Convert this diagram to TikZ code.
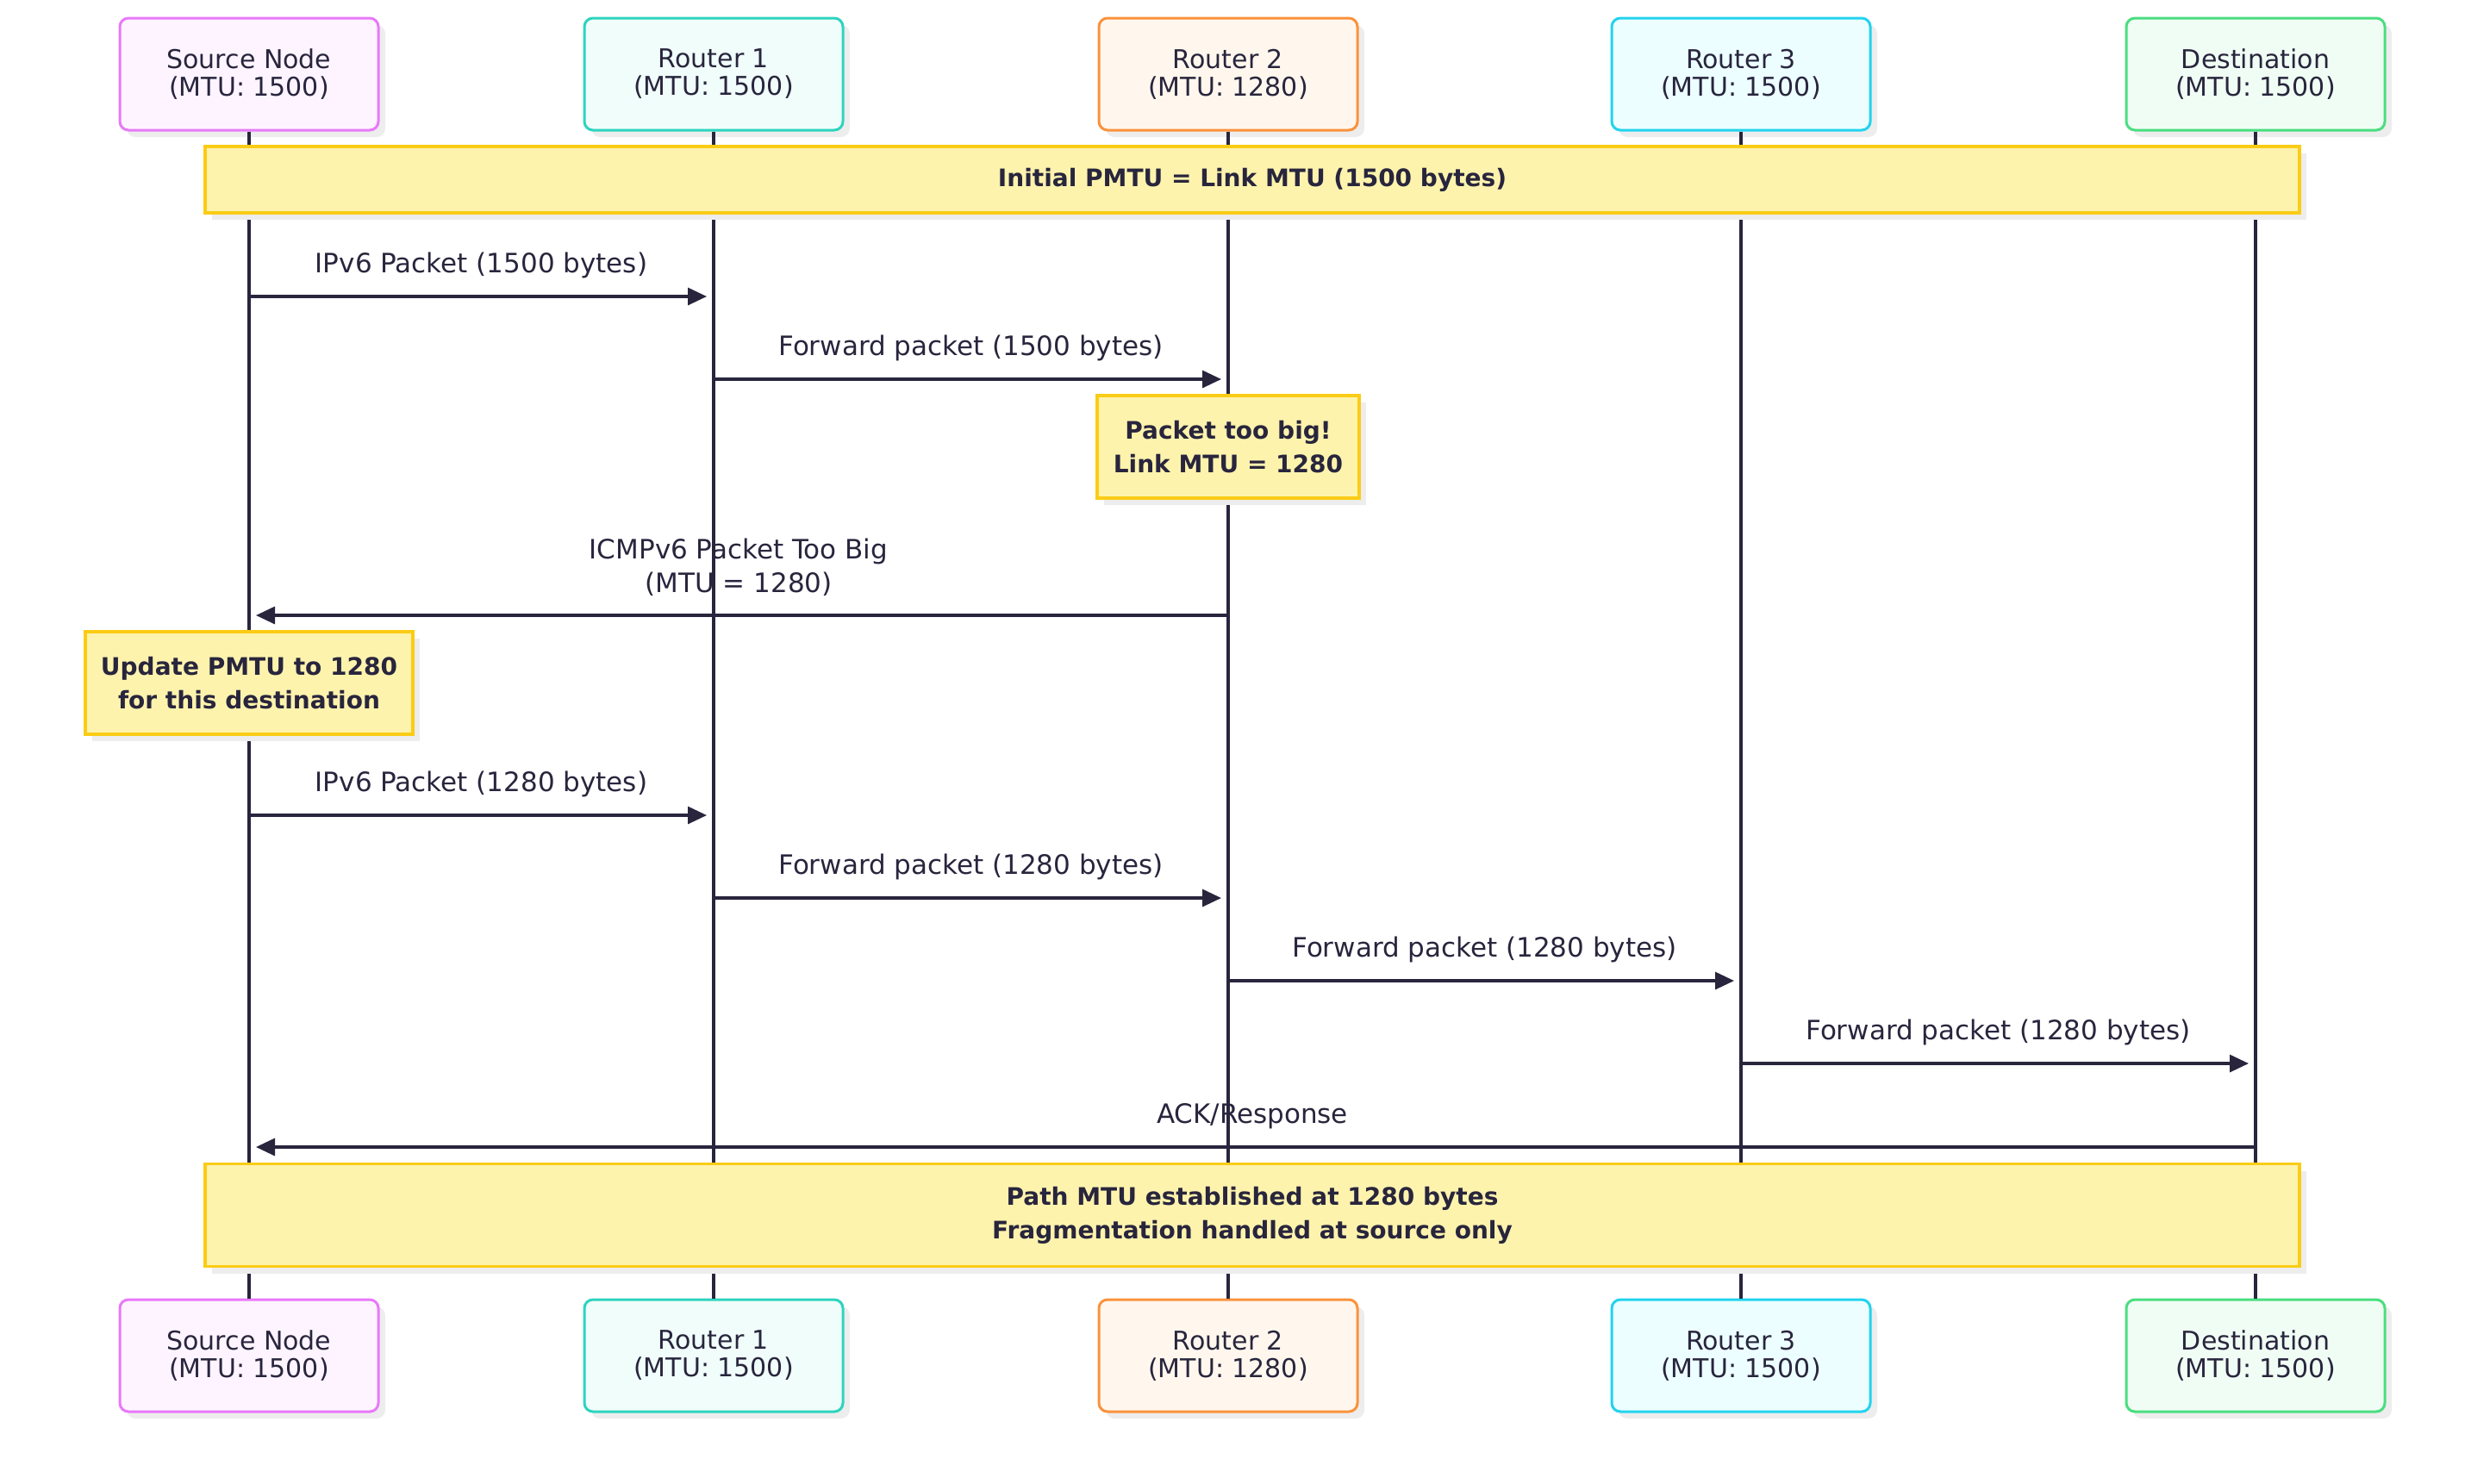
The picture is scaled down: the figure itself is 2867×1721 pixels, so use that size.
\documentclass[tikz,border=0pt]{standalone}
\usepackage{fontspec}
\setmainfont{DejaVu Sans}
\usepackage{tikz}
\usetikzlibrary{arrows.meta, positioning, shadows}
\definecolor{inkdark}{RGB}{40,37,61}
\definecolor{srcline}{RGB}{232,121,249}
\definecolor{srcfill}{RGB}{253,244,255}
\definecolor{tealline}{RGB}{45,212,191}
\definecolor{tealfill}{RGB}{240,253,250}
\definecolor{orangeline}{RGB}{251,146,60}
\definecolor{orangefill}{RGB}{255,247,237}
\definecolor{cyanline}{RGB}{34,211,238}
\definecolor{cyanfill}{RGB}{236,254,255}
\definecolor{greenline}{RGB}{74,222,128}
\definecolor{greenfill}{RGB}{240,253,244}
\definecolor{noteline}{RGB}{250,204,21}
\definecolor{notefill}{RGB}{254,243,173}

\begin{document}
\begin{tikzpicture}[
    x=0.5pt, y=-0.5pt,
    flatshadow/.style={drop shadow={shadow xshift=4pt, shadow yshift=-4pt, fill=black!7, opacity=1}},
    actor/.style={draw, line width=1.5pt, rounded corners=5pt, minimum width=150pt, minimum height=65pt, inner sep=0pt, align=center, text=inkdark, font=\fontsize{15}{16}\selectfont, flatshadow},
    note/.style={draw=noteline, fill=notefill, line width=1.8pt, inner sep=0pt, align=center, text=inkdark, font=\fontsize{14}{19.5}\selectfont\bfseries, flatshadow},
    life/.style={draw=inkdark, line width=1.6pt},
    msg/.style={-{Triangle[length=11pt, width=10pt]}, line width=1.6pt, draw=inkdark, shorten >=4pt},
    lbl/.style={text=inkdark, align=center, font=\fontsize{15.5}{19.5}\selectfont}
]
\useasboundingbox (0,0) rectangle (2867,1721);

% Participants (top)
\node[actor, draw=srcline, fill=srcfill] (srcT) at (289,86) {Source Node\\(MTU: 1500)};
\node[actor, draw=tealline, fill=tealfill] (r1T) at (828,86) {Router 1\\(MTU: 1500)};
\node[actor, draw=orangeline, fill=orangefill] (r2T) at (1425,86) {Router 2\\(MTU: 1280)};
\node[actor, draw=cyanline, fill=cyanfill] (r3T) at (2020,86) {Router 3\\(MTU: 1500)};
\node[actor, draw=greenline, fill=greenfill] (dstT) at (2617,86) {Destination\\(MTU: 1500)};

% Participants (bottom)
\node[actor, draw=srcline, fill=srcfill] (srcB) at (289,1573) {Source Node\\(MTU: 1500)};
\node[actor, draw=tealline, fill=tealfill] (r1B) at (828,1573) {Router 1\\(MTU: 1500)};
\node[actor, draw=orangeline, fill=orangefill] (r2B) at (1425,1573) {Router 2\\(MTU: 1280)};
\node[actor, draw=cyanline, fill=cyanfill] (r3B) at (2020,1573) {Router 3\\(MTU: 1500)};
\node[actor, draw=greenline, fill=greenfill] (dstB) at (2617,1573) {Destination\\(MTU: 1500)};

% Lifelines
\draw[life] (srcT.south) -- (srcB.north);
\draw[life] (r1T.south) -- (r1B.north);
\draw[life] (r2T.south) -- (r2B.north);
\draw[life] (r3T.south) -- (r3B.north);
\draw[life] (dstT.south) -- (dstB.north);

% Notes
\node[note, minimum width=1215pt, minimum height=38.5pt] (initNote) at (1453,208.5) {Initial PMTU = Link MTU (1500 bytes)};
\node[note, minimum width=152pt, minimum height=59.5pt] (bigNote) at (1425,518.5) {Packet too big!\\Link MTU = 1280};
\node[note, minimum width=190pt, minimum height=59.5pt] (updNote) at (289,792.5) {Update PMTU to 1280\\for this destination};
\node[note, minimum width=1215pt, minimum height=59.5pt] (pathNote) at (1453,1410) {Path MTU established at 1280 bytes\\Fragmentation handled at source only};

% Messages
\draw[msg] (srcT |- 0,344) -- node[lbl, yshift=18pt] {IPv6 Packet (1500 bytes)} (r1T |- 0,344);
\draw[msg] (r1T |- 0,440) -- node[lbl, yshift=18pt] {Forward packet (1500 bytes)} (r2T |- 0,440);
\draw[msg] (r2T |- 0,714) -- node[lbl, yshift=28pt] {ICMPv6 Packet Too Big\\(MTU = 1280)} (srcT |- 0,714);
\draw[msg] (srcT |- 0,946) -- node[lbl, yshift=18pt] {IPv6 Packet (1280 bytes)} (r1T |- 0,946);
\draw[msg] (r1T |- 0,1042) -- node[lbl, yshift=18pt] {Forward packet (1280 bytes)} (r2T |- 0,1042);
\draw[msg] (r2T |- 0,1138) -- node[lbl, yshift=18pt] {Forward packet (1280 bytes)} (r3T |- 0,1138);
\draw[msg] (r3T |- 0,1234) -- node[lbl, yshift=18pt] {Forward packet (1280 bytes)} (dstT |- 0,1234);
\draw[msg] (dstT |- 0,1331) -- node[lbl, yshift=18pt] {ACK/Response} (srcT |- 0,1331);

\end{tikzpicture}
\end{document}
